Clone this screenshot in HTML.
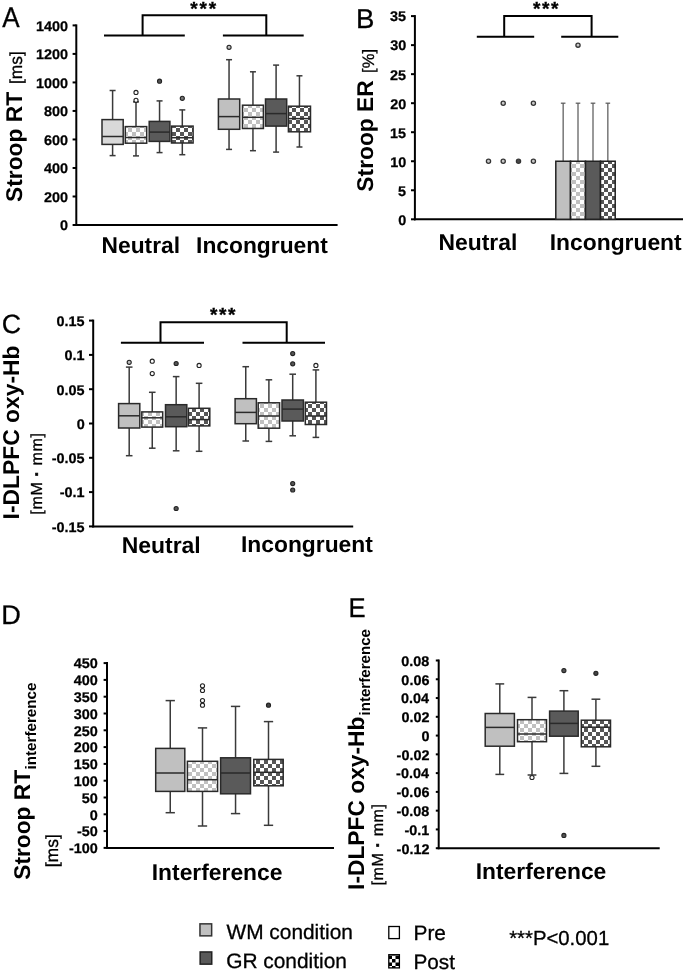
<!DOCTYPE html><html><head><meta charset="utf-8"><title>Figure</title><style>html,body{margin:0;padding:0;background:#fff;width:685px;height:971px;overflow:hidden}svg{display:block;filter:grayscale(1) blur(0.35px)}text{font-family:"Liberation Sans",sans-serif;text-rendering:geometricPrecision}</style></head><body><svg width="685" height="971" viewBox="0 0 685 971" font-family="Liberation Sans, sans-serif"><defs><pattern id="chkL" patternUnits="userSpaceOnUse" x="0" y="0" width="8" height="8"><rect width="8" height="8" fill="#fff"/><rect width="4" height="4" fill="#c0c0c0"/><rect x="4" y="4" width="4" height="4" fill="#c0c0c0"/></pattern><pattern id="chkD" patternUnits="userSpaceOnUse" x="0" y="0" width="8" height="8"><rect width="8" height="8" fill="#fff"/><rect width="4" height="4" fill="#565656"/><rect x="4" y="4" width="4" height="4" fill="#565656"/></pattern><pattern id="chkK" patternUnits="userSpaceOnUse" x="0" y="0" width="7.0" height="7.0"><rect width="7.0" height="7.0" fill="#fff"/><rect width="3.5" height="3.5" fill="#000"/><rect x="3.5" y="3.5" width="3.5" height="3.5" fill="#000"/></pattern></defs><rect width="685" height="971" fill="#fff"/><text transform="translate(2.25,26.50) scale(0.920,1)" font-size="28.34" font-weight="normal" fill="#000" stroke="#000" stroke-width="0.3">A</text>
<line x1="76.30" y1="24.40" x2="76.30" y2="226.00" stroke="#000" stroke-width="2" stroke-linecap="butt"/>
<line x1="75.30" y1="225.00" x2="337.60" y2="225.00" stroke="#000" stroke-width="2" stroke-linecap="butt"/>
<line x1="72.60" y1="225.00" x2="76.30" y2="225.00" stroke="#000" stroke-width="2" stroke-linecap="butt"/>
<text transform="translate(59.97,230.35) scale(1.030,1)" font-size="14.00" font-weight="bold" fill="#000" stroke="#000" stroke-width="0.25">0</text>
<line x1="72.60" y1="196.49" x2="76.30" y2="196.49" stroke="#000" stroke-width="2" stroke-linecap="butt"/>
<text transform="translate(43.93,201.84) scale(1.030,1)" font-size="14.00" font-weight="bold" fill="#000" stroke="#000" stroke-width="0.25">200</text>
<line x1="72.60" y1="167.97" x2="76.30" y2="167.97" stroke="#000" stroke-width="2" stroke-linecap="butt"/>
<text transform="translate(43.93,173.32) scale(1.030,1)" font-size="14.00" font-weight="bold" fill="#000" stroke="#000" stroke-width="0.25">400</text>
<line x1="72.60" y1="139.46" x2="76.30" y2="139.46" stroke="#000" stroke-width="2" stroke-linecap="butt"/>
<text transform="translate(43.93,144.81) scale(1.030,1)" font-size="14.00" font-weight="bold" fill="#000" stroke="#000" stroke-width="0.25">600</text>
<line x1="72.60" y1="110.94" x2="76.30" y2="110.94" stroke="#000" stroke-width="2" stroke-linecap="butt"/>
<text transform="translate(43.93,116.29) scale(1.030,1)" font-size="14.00" font-weight="bold" fill="#000" stroke="#000" stroke-width="0.25">800</text>
<line x1="72.60" y1="82.43" x2="76.30" y2="82.43" stroke="#000" stroke-width="2" stroke-linecap="butt"/>
<text transform="translate(35.91,87.78) scale(1.030,1)" font-size="14.00" font-weight="bold" fill="#000" stroke="#000" stroke-width="0.25">1000</text>
<line x1="72.60" y1="53.91" x2="76.30" y2="53.91" stroke="#000" stroke-width="2" stroke-linecap="butt"/>
<text transform="translate(35.91,59.26) scale(1.030,1)" font-size="14.00" font-weight="bold" fill="#000" stroke="#000" stroke-width="0.25">1200</text>
<line x1="72.60" y1="25.40" x2="76.30" y2="25.40" stroke="#000" stroke-width="2" stroke-linecap="butt"/>
<text transform="translate(35.91,30.75) scale(1.030,1)" font-size="14.00" font-weight="bold" fill="#000" stroke="#000" stroke-width="0.25">1400</text>
<text transform="translate(22.20,201.96) rotate(-90)" font-size="22.78" font-weight="bold" fill="#000">Stroop RT</text>
<text transform="translate(22.20,84.04) rotate(-90)" font-size="17.41" font-weight="normal" fill="#000" stroke="#000" stroke-width="0.3">[ms]</text>
<path d="M104,35.5 H184.8 M142.6,35.5 V15.3 H266.3 V35.5 M222.9,35.5 H303.7" stroke="#000" stroke-width="2" fill="none" />
<text x="190.28" y="15.29" font-size="19.00" font-weight="bold" stroke="#000" stroke-width="0.35">*</text>
<text x="199.58" y="15.29" font-size="19.00" font-weight="bold" stroke="#000" stroke-width="0.35">*</text>
<text x="208.68" y="15.29" font-size="19.00" font-weight="bold" stroke="#000" stroke-width="0.35">*</text>
<text x="101.58" y="252.50" font-size="22.77" font-weight="bold" fill="#000">Neutral</text>
<text x="196.07" y="252.60" font-size="22.81" font-weight="bold" fill="#000">Incongruent</text>
<line x1="112.60" y1="90.50" x2="112.60" y2="119.60" stroke="#3a3a3a" stroke-width="1.5" stroke-linecap="butt"/>
<line x1="112.60" y1="144.40" x2="112.60" y2="155.60" stroke="#3a3a3a" stroke-width="1.5" stroke-linecap="butt"/>
<line x1="109.60" y1="90.50" x2="115.60" y2="90.50" stroke="#3a3a3a" stroke-width="1.5" stroke-linecap="butt"/>
<line x1="109.60" y1="155.60" x2="115.60" y2="155.60" stroke="#3a3a3a" stroke-width="1.5" stroke-linecap="butt"/>
<rect x="102.00" y="119.60" width="21.20" height="24.80" fill="#d9d9d9" stroke="#2a2a2a" stroke-width="1.5"/>
<line x1="102.00" y1="136.50" x2="123.20" y2="136.50" stroke="#2a2a2a" stroke-width="1.5" stroke-linecap="butt"/>
<line x1="136.00" y1="101.90" x2="136.00" y2="126.60" stroke="#3a3a3a" stroke-width="1.5" stroke-linecap="butt"/>
<line x1="136.00" y1="143.20" x2="136.00" y2="155.90" stroke="#3a3a3a" stroke-width="1.5" stroke-linecap="butt"/>
<line x1="133.00" y1="101.90" x2="139.00" y2="101.90" stroke="#3a3a3a" stroke-width="1.5" stroke-linecap="butt"/>
<line x1="133.00" y1="155.90" x2="139.00" y2="155.90" stroke="#3a3a3a" stroke-width="1.5" stroke-linecap="butt"/>
<rect x="125.30" y="126.60" width="21.40" height="16.60" fill="url(#chkL)" stroke="#2a2a2a" stroke-width="1.5"/>
<line x1="125.30" y1="137.50" x2="146.70" y2="137.50" stroke="#2a2a2a" stroke-width="1.5" stroke-linecap="butt"/>
<circle cx="136.00" cy="92.40" r="2.05" fill="#fff" stroke="#222" stroke-width="1.1"/>
<circle cx="136.00" cy="100.30" r="2.05" fill="#fff" stroke="#222" stroke-width="1.1"/>
<line x1="159.55" y1="100.90" x2="159.55" y2="121.40" stroke="#3a3a3a" stroke-width="1.5" stroke-linecap="butt"/>
<line x1="159.55" y1="141.40" x2="159.55" y2="152.60" stroke="#3a3a3a" stroke-width="1.5" stroke-linecap="butt"/>
<line x1="156.55" y1="100.90" x2="162.55" y2="100.90" stroke="#3a3a3a" stroke-width="1.5" stroke-linecap="butt"/>
<line x1="156.55" y1="152.60" x2="162.55" y2="152.60" stroke="#3a3a3a" stroke-width="1.5" stroke-linecap="butt"/>
<rect x="149.20" y="121.40" width="20.70" height="20.00" fill="#5a5a5a" stroke="#2a2a2a" stroke-width="1.5"/>
<line x1="149.20" y1="132.10" x2="169.90" y2="132.10" stroke="#2a2a2a" stroke-width="1.5" stroke-linecap="butt"/>
<circle cx="159.55" cy="81.20" r="2.05" fill="#555" stroke="#222" stroke-width="1.1"/>
<line x1="182.30" y1="109.90" x2="182.30" y2="126.10" stroke="#3a3a3a" stroke-width="1.5" stroke-linecap="butt"/>
<line x1="182.30" y1="143.00" x2="182.30" y2="154.70" stroke="#3a3a3a" stroke-width="1.5" stroke-linecap="butt"/>
<line x1="179.30" y1="109.90" x2="185.30" y2="109.90" stroke="#3a3a3a" stroke-width="1.5" stroke-linecap="butt"/>
<line x1="179.30" y1="154.70" x2="185.30" y2="154.70" stroke="#3a3a3a" stroke-width="1.5" stroke-linecap="butt"/>
<rect x="171.50" y="126.10" width="21.60" height="16.90" fill="url(#chkD)" stroke="#2a2a2a" stroke-width="1.5"/>
<line x1="171.50" y1="137.70" x2="193.10" y2="137.70" stroke="#2a2a2a" stroke-width="1.5" stroke-linecap="butt"/>
<circle cx="182.30" cy="98.30" r="2.05" fill="#777" stroke="#222" stroke-width="1.1"/>
<line x1="229.05" y1="59.70" x2="229.05" y2="99.00" stroke="#3a3a3a" stroke-width="1.5" stroke-linecap="butt"/>
<line x1="229.05" y1="129.30" x2="229.05" y2="149.40" stroke="#3a3a3a" stroke-width="1.5" stroke-linecap="butt"/>
<line x1="226.05" y1="59.70" x2="232.05" y2="59.70" stroke="#3a3a3a" stroke-width="1.5" stroke-linecap="butt"/>
<line x1="226.05" y1="149.40" x2="232.05" y2="149.40" stroke="#3a3a3a" stroke-width="1.5" stroke-linecap="butt"/>
<rect x="218.40" y="99.00" width="21.30" height="30.30" fill="#c0c0c0" stroke="#2a2a2a" stroke-width="1.5"/>
<line x1="218.40" y1="116.60" x2="239.70" y2="116.60" stroke="#2a2a2a" stroke-width="1.5" stroke-linecap="butt"/>
<circle cx="229.05" cy="47.30" r="2.05" fill="#c0c0c0" stroke="#222" stroke-width="1.1"/>
<line x1="252.95" y1="71.80" x2="252.95" y2="105.20" stroke="#3a3a3a" stroke-width="1.5" stroke-linecap="butt"/>
<line x1="252.95" y1="128.50" x2="252.95" y2="150.70" stroke="#3a3a3a" stroke-width="1.5" stroke-linecap="butt"/>
<line x1="249.95" y1="71.80" x2="255.95" y2="71.80" stroke="#3a3a3a" stroke-width="1.5" stroke-linecap="butt"/>
<line x1="249.95" y1="150.70" x2="255.95" y2="150.70" stroke="#3a3a3a" stroke-width="1.5" stroke-linecap="butt"/>
<rect x="242.50" y="105.20" width="20.90" height="23.30" fill="url(#chkL)" stroke="#2a2a2a" stroke-width="1.5"/>
<line x1="242.50" y1="117.30" x2="263.40" y2="117.30" stroke="#2a2a2a" stroke-width="1.5" stroke-linecap="butt"/>
<line x1="276.10" y1="65.10" x2="276.10" y2="99.00" stroke="#3a3a3a" stroke-width="1.5" stroke-linecap="butt"/>
<line x1="276.10" y1="126.10" x2="276.10" y2="152.10" stroke="#3a3a3a" stroke-width="1.5" stroke-linecap="butt"/>
<line x1="273.10" y1="65.10" x2="279.10" y2="65.10" stroke="#3a3a3a" stroke-width="1.5" stroke-linecap="butt"/>
<line x1="273.10" y1="152.10" x2="279.10" y2="152.10" stroke="#3a3a3a" stroke-width="1.5" stroke-linecap="butt"/>
<rect x="265.50" y="99.00" width="21.20" height="27.10" fill="#5a5a5a" stroke="#2a2a2a" stroke-width="1.5"/>
<line x1="265.50" y1="113.60" x2="286.70" y2="113.60" stroke="#2a2a2a" stroke-width="1.5" stroke-linecap="butt"/>
<line x1="299.45" y1="75.80" x2="299.45" y2="106.20" stroke="#3a3a3a" stroke-width="1.5" stroke-linecap="butt"/>
<line x1="299.45" y1="131.80" x2="299.45" y2="147.00" stroke="#3a3a3a" stroke-width="1.5" stroke-linecap="butt"/>
<line x1="296.45" y1="75.80" x2="302.45" y2="75.80" stroke="#3a3a3a" stroke-width="1.5" stroke-linecap="butt"/>
<line x1="296.45" y1="147.00" x2="302.45" y2="147.00" stroke="#3a3a3a" stroke-width="1.5" stroke-linecap="butt"/>
<rect x="288.40" y="106.20" width="22.10" height="25.60" fill="url(#chkD)" stroke="#2a2a2a" stroke-width="1.5"/>
<line x1="288.40" y1="118.60" x2="310.50" y2="118.60" stroke="#2a2a2a" stroke-width="1.5" stroke-linecap="butt"/>
<text transform="translate(355.93,27.60) scale(1.016,1)" font-size="27.18" font-weight="normal" fill="#000" stroke="#000" stroke-width="0.3">B</text>
<line x1="414.90" y1="15.10" x2="414.90" y2="220.30" stroke="#000" stroke-width="2" stroke-linecap="butt"/>
<line x1="413.90" y1="219.30" x2="683.00" y2="219.30" stroke="#000" stroke-width="2" stroke-linecap="butt"/>
<line x1="411.00" y1="219.30" x2="414.90" y2="219.30" stroke="#000" stroke-width="2" stroke-linecap="butt"/>
<text transform="translate(398.17,224.65) scale(1.030,1)" font-size="14.00" font-weight="bold" fill="#000" stroke="#000" stroke-width="0.25">0</text>
<line x1="411.00" y1="190.27" x2="414.90" y2="190.27" stroke="#000" stroke-width="2" stroke-linecap="butt"/>
<text transform="translate(397.98,195.62) scale(1.030,1)" font-size="14.00" font-weight="bold" fill="#000" stroke="#000" stroke-width="0.25">5</text>
<line x1="411.00" y1="161.24" x2="414.90" y2="161.24" stroke="#000" stroke-width="2" stroke-linecap="butt"/>
<text transform="translate(390.15,166.59) scale(1.030,1)" font-size="14.00" font-weight="bold" fill="#000" stroke="#000" stroke-width="0.25">10</text>
<line x1="411.00" y1="132.21" x2="414.90" y2="132.21" stroke="#000" stroke-width="2" stroke-linecap="butt"/>
<text transform="translate(389.96,137.56) scale(1.030,1)" font-size="14.00" font-weight="bold" fill="#000" stroke="#000" stroke-width="0.25">15</text>
<line x1="411.00" y1="103.19" x2="414.90" y2="103.19" stroke="#000" stroke-width="2" stroke-linecap="butt"/>
<text transform="translate(390.15,108.54) scale(1.030,1)" font-size="14.00" font-weight="bold" fill="#000" stroke="#000" stroke-width="0.25">20</text>
<line x1="411.00" y1="74.16" x2="414.90" y2="74.16" stroke="#000" stroke-width="2" stroke-linecap="butt"/>
<text transform="translate(389.96,79.51) scale(1.030,1)" font-size="14.00" font-weight="bold" fill="#000" stroke="#000" stroke-width="0.25">25</text>
<line x1="411.00" y1="45.13" x2="414.90" y2="45.13" stroke="#000" stroke-width="2" stroke-linecap="butt"/>
<text transform="translate(390.15,50.48) scale(1.030,1)" font-size="14.00" font-weight="bold" fill="#000" stroke="#000" stroke-width="0.25">30</text>
<line x1="411.00" y1="16.10" x2="414.90" y2="16.10" stroke="#000" stroke-width="2" stroke-linecap="butt"/>
<text transform="translate(389.96,21.45) scale(1.030,1)" font-size="14.00" font-weight="bold" fill="#000" stroke="#000" stroke-width="0.25">35</text>
<text transform="translate(373.30,191.66) rotate(-90)" font-size="22.81" font-weight="bold" fill="#000">Stroop ER</text>
<text transform="translate(373.60,72.88) rotate(-90)" font-size="16.51" font-weight="normal" fill="#000" stroke="#000" stroke-width="0.3">[%]</text>
<path d="M476.8,36.8 H534.2 M504.2,36.8 V15.9 H591.6 V36.8 M561.2,36.8 H618.3" stroke="#000" stroke-width="2" fill="none" />
<text x="532.88" y="15.24" font-size="19.00" font-weight="bold" stroke="#000" stroke-width="0.35">*</text>
<text x="541.98" y="15.24" font-size="19.00" font-weight="bold" stroke="#000" stroke-width="0.35">*</text>
<text x="551.08" y="15.24" font-size="19.00" font-weight="bold" stroke="#000" stroke-width="0.35">*</text>
<text x="438.57" y="250.00" font-size="22.86" font-weight="bold" fill="#000">Neutral</text>
<text x="549.77" y="249.90" font-size="22.83" font-weight="bold" fill="#000">Incongruent</text>
<line x1="563.15" y1="103.19" x2="563.15" y2="161.24" stroke="#555" stroke-width="1.2" stroke-linecap="butt"/>
<line x1="560.85" y1="103.19" x2="565.45" y2="103.19" stroke="#555" stroke-width="1.2" stroke-linecap="butt"/>
<line x1="578.00" y1="103.19" x2="578.00" y2="161.24" stroke="#555" stroke-width="1.2" stroke-linecap="butt"/>
<line x1="575.70" y1="103.19" x2="580.30" y2="103.19" stroke="#555" stroke-width="1.2" stroke-linecap="butt"/>
<line x1="593.00" y1="103.19" x2="593.00" y2="161.24" stroke="#555" stroke-width="1.2" stroke-linecap="butt"/>
<line x1="590.70" y1="103.19" x2="595.30" y2="103.19" stroke="#555" stroke-width="1.2" stroke-linecap="butt"/>
<line x1="607.85" y1="103.19" x2="607.85" y2="161.24" stroke="#555" stroke-width="1.2" stroke-linecap="butt"/>
<line x1="605.55" y1="103.19" x2="610.15" y2="103.19" stroke="#555" stroke-width="1.2" stroke-linecap="butt"/>
<rect x="555.80" y="161.24" width="14.70" height="58.06" fill="#c0c0c0" stroke="#222" stroke-width="1.5"/>
<rect x="570.50" y="161.24" width="15.00" height="58.06" fill="url(#chkL)" stroke="#222" stroke-width="1.5"/>
<rect x="585.50" y="161.24" width="15.00" height="58.06" fill="#5a5a5a" stroke="#222" stroke-width="1.5"/>
<rect x="600.50" y="161.24" width="14.70" height="58.06" fill="url(#chkD)" stroke="#222" stroke-width="1.5"/>
<circle cx="503.20" cy="103.19" r="2.10" fill="#c8c8c8" stroke="#333" stroke-width="1.3"/>
<circle cx="533.40" cy="103.19" r="2.10" fill="#c8c8c8" stroke="#333" stroke-width="1.3"/>
<circle cx="488.50" cy="161.24" r="2.10" fill="#c8c8c8" stroke="#333" stroke-width="1.3"/>
<circle cx="503.20" cy="161.24" r="2.10" fill="#c8c8c8" stroke="#333" stroke-width="1.3"/>
<circle cx="518.50" cy="161.24" r="2.10" fill="#4a4a4a" stroke="#333" stroke-width="1.3"/>
<circle cx="533.40" cy="161.24" r="2.10" fill="#c8c8c8" stroke="#333" stroke-width="1.3"/>
<circle cx="578.00" cy="45.13" r="2.10" fill="#c8c8c8" stroke="#333" stroke-width="1.3"/>
<text transform="translate(1.64,332.84) scale(1.016,1)" font-size="26.41" font-weight="normal" fill="#000" stroke="#000" stroke-width="0.3">C</text>
<line x1="93.20" y1="319.60" x2="93.20" y2="527.40" stroke="#000" stroke-width="2" stroke-linecap="butt"/>
<line x1="92.20" y1="526.40" x2="353.20" y2="526.40" stroke="#000" stroke-width="2" stroke-linecap="butt"/>
<line x1="89.00" y1="320.60" x2="93.20" y2="320.60" stroke="#000" stroke-width="2" stroke-linecap="butt"/>
<text transform="translate(56.54,325.95) scale(1.030,1)" font-size="14.00" font-weight="bold" fill="#000" stroke="#000" stroke-width="0.25">0.15</text>
<line x1="89.00" y1="354.90" x2="93.20" y2="354.90" stroke="#000" stroke-width="2" stroke-linecap="butt"/>
<text transform="translate(64.56,360.25) scale(1.030,1)" font-size="14.00" font-weight="bold" fill="#000" stroke="#000" stroke-width="0.25">0.1</text>
<line x1="89.00" y1="389.20" x2="93.20" y2="389.20" stroke="#000" stroke-width="2" stroke-linecap="butt"/>
<text transform="translate(56.54,394.55) scale(1.030,1)" font-size="14.00" font-weight="bold" fill="#000" stroke="#000" stroke-width="0.25">0.05</text>
<line x1="89.00" y1="423.50" x2="93.20" y2="423.50" stroke="#000" stroke-width="2" stroke-linecap="butt"/>
<text transform="translate(76.77,428.85) scale(1.030,1)" font-size="14.00" font-weight="bold" fill="#000" stroke="#000" stroke-width="0.25">0</text>
<line x1="89.00" y1="457.80" x2="93.20" y2="457.80" stroke="#000" stroke-width="2" stroke-linecap="butt"/>
<text transform="translate(51.73,463.15) scale(1.030,1)" font-size="14.00" font-weight="bold" fill="#000" stroke="#000" stroke-width="0.25">-0.05</text>
<line x1="89.00" y1="492.10" x2="93.20" y2="492.10" stroke="#000" stroke-width="2" stroke-linecap="butt"/>
<text transform="translate(59.75,497.45) scale(1.030,1)" font-size="14.00" font-weight="bold" fill="#000" stroke="#000" stroke-width="0.25">-0.1</text>
<line x1="89.00" y1="526.40" x2="93.20" y2="526.40" stroke="#000" stroke-width="2" stroke-linecap="butt"/>
<text transform="translate(51.73,531.75) scale(1.030,1)" font-size="14.00" font-weight="bold" fill="#000" stroke="#000" stroke-width="0.25">-0.15</text>
<text transform="translate(19.40,519.43) rotate(-90)" font-size="22.87" font-weight="bold" fill="#000">I-DLPFC oxy-Hb</text>
<text transform="translate(42.00,514.64) rotate(-90)" font-size="16.00" font-weight="normal" fill="#000" textLength="81.68" lengthAdjust="spacing" stroke="#000" stroke-width="0.3">[mM <tspan font-weight="bold" stroke-width="0.6">·</tspan> mm]</text>
<path d="M120.9,342.8 H204 M160.5,342.8 V322.3 H286.7 V342.8 M242.5,342.8 H325" stroke="#000" stroke-width="2" fill="none" />
<text x="209.98" y="321.04" font-size="19.00" font-weight="bold" stroke="#000" stroke-width="0.35">*</text>
<text x="218.98" y="321.04" font-size="19.00" font-weight="bold" stroke="#000" stroke-width="0.35">*</text>
<text x="228.08" y="321.04" font-size="19.00" font-weight="bold" stroke="#000" stroke-width="0.35">*</text>
<text x="121.66" y="553.40" font-size="22.95" font-weight="bold" fill="#000">Neutral</text>
<text x="240.97" y="552.40" font-size="22.83" font-weight="bold" fill="#000">Incongruent</text>
<line x1="129.20" y1="367.10" x2="129.20" y2="403.60" stroke="#3a3a3a" stroke-width="1.5" stroke-linecap="butt"/>
<line x1="129.20" y1="428.00" x2="129.20" y2="455.70" stroke="#3a3a3a" stroke-width="1.5" stroke-linecap="butt"/>
<line x1="125.90" y1="367.10" x2="132.50" y2="367.10" stroke="#3a3a3a" stroke-width="1.5" stroke-linecap="butt"/>
<line x1="125.90" y1="455.70" x2="132.50" y2="455.70" stroke="#3a3a3a" stroke-width="1.5" stroke-linecap="butt"/>
<rect x="118.60" y="403.60" width="21.20" height="24.40" fill="#c0c0c0" stroke="#2a2a2a" stroke-width="1.5"/>
<line x1="118.60" y1="415.80" x2="139.80" y2="415.80" stroke="#2a2a2a" stroke-width="1.5" stroke-linecap="butt"/>
<circle cx="129.20" cy="362.30" r="2.05" fill="#c0c0c0" stroke="#222" stroke-width="1.1"/>
<line x1="152.25" y1="392.30" x2="152.25" y2="411.90" stroke="#3a3a3a" stroke-width="1.5" stroke-linecap="butt"/>
<line x1="152.25" y1="427.10" x2="152.25" y2="448.20" stroke="#3a3a3a" stroke-width="1.5" stroke-linecap="butt"/>
<line x1="148.95" y1="392.30" x2="155.55" y2="392.30" stroke="#3a3a3a" stroke-width="1.5" stroke-linecap="butt"/>
<line x1="148.95" y1="448.20" x2="155.55" y2="448.20" stroke="#3a3a3a" stroke-width="1.5" stroke-linecap="butt"/>
<rect x="141.80" y="411.90" width="20.90" height="15.20" fill="url(#chkL)" stroke="#2a2a2a" stroke-width="1.5"/>
<line x1="141.80" y1="417.80" x2="162.70" y2="417.80" stroke="#2a2a2a" stroke-width="1.5" stroke-linecap="butt"/>
<circle cx="152.25" cy="361.20" r="2.05" fill="#fff" stroke="#222" stroke-width="1.1"/>
<circle cx="152.25" cy="373.60" r="2.05" fill="#fff" stroke="#222" stroke-width="1.1"/>
<line x1="176.15" y1="376.60" x2="176.15" y2="404.70" stroke="#3a3a3a" stroke-width="1.5" stroke-linecap="butt"/>
<line x1="176.15" y1="426.70" x2="176.15" y2="450.80" stroke="#3a3a3a" stroke-width="1.5" stroke-linecap="butt"/>
<line x1="172.85" y1="376.60" x2="179.45" y2="376.60" stroke="#3a3a3a" stroke-width="1.5" stroke-linecap="butt"/>
<line x1="172.85" y1="450.80" x2="179.45" y2="450.80" stroke="#3a3a3a" stroke-width="1.5" stroke-linecap="butt"/>
<rect x="165.50" y="404.70" width="21.30" height="22.00" fill="#5a5a5a" stroke="#2a2a2a" stroke-width="1.5"/>
<line x1="165.50" y1="416.80" x2="186.80" y2="416.80" stroke="#2a2a2a" stroke-width="1.5" stroke-linecap="butt"/>
<circle cx="176.15" cy="363.50" r="2.05" fill="#555" stroke="#222" stroke-width="1.1"/>
<circle cx="176.15" cy="508.50" r="2.05" fill="#555" stroke="#222" stroke-width="1.1"/>
<line x1="199.10" y1="383.30" x2="199.10" y2="408.30" stroke="#3a3a3a" stroke-width="1.5" stroke-linecap="butt"/>
<line x1="199.10" y1="425.90" x2="199.10" y2="451.30" stroke="#3a3a3a" stroke-width="1.5" stroke-linecap="butt"/>
<line x1="195.80" y1="383.30" x2="202.40" y2="383.30" stroke="#3a3a3a" stroke-width="1.5" stroke-linecap="butt"/>
<line x1="195.80" y1="451.30" x2="202.40" y2="451.30" stroke="#3a3a3a" stroke-width="1.5" stroke-linecap="butt"/>
<rect x="188.40" y="408.30" width="21.40" height="17.60" fill="url(#chkD)" stroke="#2a2a2a" stroke-width="1.5"/>
<line x1="188.40" y1="419.60" x2="209.80" y2="419.60" stroke="#2a2a2a" stroke-width="1.5" stroke-linecap="butt"/>
<circle cx="199.10" cy="365.40" r="2.05" fill="#fff" stroke="#222" stroke-width="1.1"/>
<line x1="245.75" y1="366.70" x2="245.75" y2="398.70" stroke="#3a3a3a" stroke-width="1.5" stroke-linecap="butt"/>
<line x1="245.75" y1="423.70" x2="245.75" y2="441.00" stroke="#3a3a3a" stroke-width="1.5" stroke-linecap="butt"/>
<line x1="242.45" y1="366.70" x2="249.05" y2="366.70" stroke="#3a3a3a" stroke-width="1.5" stroke-linecap="butt"/>
<line x1="242.45" y1="441.00" x2="249.05" y2="441.00" stroke="#3a3a3a" stroke-width="1.5" stroke-linecap="butt"/>
<rect x="235.10" y="398.70" width="21.30" height="25.00" fill="#c0c0c0" stroke="#2a2a2a" stroke-width="1.5"/>
<line x1="235.10" y1="412.40" x2="256.40" y2="412.40" stroke="#2a2a2a" stroke-width="1.5" stroke-linecap="butt"/>
<line x1="268.90" y1="379.80" x2="268.90" y2="402.80" stroke="#3a3a3a" stroke-width="1.5" stroke-linecap="butt"/>
<line x1="268.90" y1="428.20" x2="268.90" y2="441.40" stroke="#3a3a3a" stroke-width="1.5" stroke-linecap="butt"/>
<line x1="265.60" y1="379.80" x2="272.20" y2="379.80" stroke="#3a3a3a" stroke-width="1.5" stroke-linecap="butt"/>
<line x1="265.60" y1="441.40" x2="272.20" y2="441.40" stroke="#3a3a3a" stroke-width="1.5" stroke-linecap="butt"/>
<rect x="258.20" y="402.80" width="21.40" height="25.40" fill="url(#chkL)" stroke="#2a2a2a" stroke-width="1.5"/>
<line x1="258.20" y1="416.00" x2="279.60" y2="416.00" stroke="#2a2a2a" stroke-width="1.5" stroke-linecap="butt"/>
<line x1="292.70" y1="374.20" x2="292.70" y2="400.00" stroke="#3a3a3a" stroke-width="1.5" stroke-linecap="butt"/>
<line x1="292.70" y1="421.00" x2="292.70" y2="435.80" stroke="#3a3a3a" stroke-width="1.5" stroke-linecap="butt"/>
<line x1="289.40" y1="374.20" x2="296.00" y2="374.20" stroke="#3a3a3a" stroke-width="1.5" stroke-linecap="butt"/>
<line x1="289.40" y1="435.80" x2="296.00" y2="435.80" stroke="#3a3a3a" stroke-width="1.5" stroke-linecap="butt"/>
<rect x="282.00" y="400.00" width="21.40" height="21.00" fill="#5a5a5a" stroke="#2a2a2a" stroke-width="1.5"/>
<line x1="282.00" y1="409.10" x2="303.40" y2="409.10" stroke="#2a2a2a" stroke-width="1.5" stroke-linecap="butt"/>
<circle cx="292.70" cy="353.60" r="2.05" fill="#555" stroke="#222" stroke-width="1.1"/>
<circle cx="292.70" cy="363.80" r="2.05" fill="#555" stroke="#222" stroke-width="1.1"/>
<circle cx="292.70" cy="483.60" r="2.05" fill="#555" stroke="#222" stroke-width="1.1"/>
<circle cx="292.70" cy="490.00" r="2.05" fill="#555" stroke="#222" stroke-width="1.1"/>
<line x1="315.90" y1="369.90" x2="315.90" y2="402.20" stroke="#3a3a3a" stroke-width="1.5" stroke-linecap="butt"/>
<line x1="315.90" y1="424.50" x2="315.90" y2="437.40" stroke="#3a3a3a" stroke-width="1.5" stroke-linecap="butt"/>
<line x1="312.60" y1="369.90" x2="319.20" y2="369.90" stroke="#3a3a3a" stroke-width="1.5" stroke-linecap="butt"/>
<line x1="312.60" y1="437.40" x2="319.20" y2="437.40" stroke="#3a3a3a" stroke-width="1.5" stroke-linecap="butt"/>
<rect x="305.30" y="402.20" width="21.20" height="22.30" fill="url(#chkD)" stroke="#2a2a2a" stroke-width="1.5"/>
<line x1="305.30" y1="416.00" x2="326.50" y2="416.00" stroke="#2a2a2a" stroke-width="1.5" stroke-linecap="butt"/>
<circle cx="315.90" cy="365.40" r="2.05" fill="#fff" stroke="#222" stroke-width="1.1"/>
<text transform="translate(1.37,624.00) scale(1.016,1)" font-size="26.74" font-weight="normal" fill="#000" stroke="#000" stroke-width="0.3">D</text>
<line x1="107.00" y1="662.10" x2="107.00" y2="848.90" stroke="#000" stroke-width="2" stroke-linecap="butt"/>
<line x1="106.00" y1="847.90" x2="334.00" y2="847.90" stroke="#000" stroke-width="2" stroke-linecap="butt"/>
<line x1="103.60" y1="663.10" x2="107.00" y2="663.10" stroke="#000" stroke-width="2" stroke-linecap="butt"/>
<text transform="translate(73.73,668.45) scale(1.030,1)" font-size="14.00" font-weight="bold" fill="#000" stroke="#000" stroke-width="0.25">450</text>
<line x1="103.60" y1="679.90" x2="107.00" y2="679.90" stroke="#000" stroke-width="2" stroke-linecap="butt"/>
<text transform="translate(73.73,685.25) scale(1.030,1)" font-size="14.00" font-weight="bold" fill="#000" stroke="#000" stroke-width="0.25">400</text>
<line x1="103.60" y1="696.70" x2="107.00" y2="696.70" stroke="#000" stroke-width="2" stroke-linecap="butt"/>
<text transform="translate(73.73,702.05) scale(1.030,1)" font-size="14.00" font-weight="bold" fill="#000" stroke="#000" stroke-width="0.25">350</text>
<line x1="103.60" y1="713.50" x2="107.00" y2="713.50" stroke="#000" stroke-width="2" stroke-linecap="butt"/>
<text transform="translate(73.73,718.85) scale(1.030,1)" font-size="14.00" font-weight="bold" fill="#000" stroke="#000" stroke-width="0.25">300</text>
<line x1="103.60" y1="730.30" x2="107.00" y2="730.30" stroke="#000" stroke-width="2" stroke-linecap="butt"/>
<text transform="translate(73.73,735.65) scale(1.030,1)" font-size="14.00" font-weight="bold" fill="#000" stroke="#000" stroke-width="0.25">250</text>
<line x1="103.60" y1="747.10" x2="107.00" y2="747.10" stroke="#000" stroke-width="2" stroke-linecap="butt"/>
<text transform="translate(73.73,752.45) scale(1.030,1)" font-size="14.00" font-weight="bold" fill="#000" stroke="#000" stroke-width="0.25">200</text>
<line x1="103.60" y1="763.90" x2="107.00" y2="763.90" stroke="#000" stroke-width="2" stroke-linecap="butt"/>
<text transform="translate(73.73,769.25) scale(1.030,1)" font-size="14.00" font-weight="bold" fill="#000" stroke="#000" stroke-width="0.25">150</text>
<line x1="103.60" y1="780.70" x2="107.00" y2="780.70" stroke="#000" stroke-width="2" stroke-linecap="butt"/>
<text transform="translate(73.73,786.05) scale(1.030,1)" font-size="14.00" font-weight="bold" fill="#000" stroke="#000" stroke-width="0.25">100</text>
<line x1="103.60" y1="797.50" x2="107.00" y2="797.50" stroke="#000" stroke-width="2" stroke-linecap="butt"/>
<text transform="translate(81.75,802.85) scale(1.030,1)" font-size="14.00" font-weight="bold" fill="#000" stroke="#000" stroke-width="0.25">50</text>
<line x1="103.60" y1="814.30" x2="107.00" y2="814.30" stroke="#000" stroke-width="2" stroke-linecap="butt"/>
<text transform="translate(89.77,819.65) scale(1.030,1)" font-size="14.00" font-weight="bold" fill="#000" stroke="#000" stroke-width="0.25">0</text>
<line x1="103.60" y1="831.10" x2="107.00" y2="831.10" stroke="#000" stroke-width="2" stroke-linecap="butt"/>
<text transform="translate(76.95,836.45) scale(1.030,1)" font-size="14.00" font-weight="bold" fill="#000" stroke="#000" stroke-width="0.25">-50</text>
<line x1="103.60" y1="847.90" x2="107.00" y2="847.90" stroke="#000" stroke-width="2" stroke-linecap="butt"/>
<text transform="translate(68.93,853.25) scale(1.030,1)" font-size="14.00" font-weight="bold" fill="#000" stroke="#000" stroke-width="0.25">-100</text>
<text transform="translate(29.90,879.75) rotate(-90)" font-size="22.72" font-weight="bold" fill="#000">Stroop RT</text>
<text transform="translate(35.60,769.46) rotate(-90)" font-size="15.18" font-weight="bold" fill="#000">interference</text>
<text transform="translate(57.70,867.25) rotate(-90)" font-size="17.52" font-weight="normal" fill="#000" stroke="#000" stroke-width="0.3">[ms]</text>
<text x="151.77" y="879.50" font-size="22.83" font-weight="bold" fill="#000">Interference</text>
<line x1="170.25" y1="700.60" x2="170.25" y2="748.40" stroke="#3a3a3a" stroke-width="1.5" stroke-linecap="butt"/>
<line x1="170.25" y1="791.40" x2="170.25" y2="812.70" stroke="#3a3a3a" stroke-width="1.5" stroke-linecap="butt"/>
<line x1="165.60" y1="700.60" x2="174.90" y2="700.60" stroke="#3a3a3a" stroke-width="1.5" stroke-linecap="butt"/>
<line x1="165.60" y1="812.70" x2="174.90" y2="812.70" stroke="#3a3a3a" stroke-width="1.5" stroke-linecap="butt"/>
<rect x="155.70" y="748.40" width="29.10" height="43.00" fill="#c0c0c0" stroke="#2a2a2a" stroke-width="1.5"/>
<line x1="155.70" y1="773.00" x2="184.80" y2="773.00" stroke="#2a2a2a" stroke-width="1.5" stroke-linecap="butt"/>
<line x1="202.50" y1="727.90" x2="202.50" y2="761.30" stroke="#3a3a3a" stroke-width="1.5" stroke-linecap="butt"/>
<line x1="202.50" y1="791.40" x2="202.50" y2="826.00" stroke="#3a3a3a" stroke-width="1.5" stroke-linecap="butt"/>
<line x1="197.85" y1="727.90" x2="207.15" y2="727.90" stroke="#3a3a3a" stroke-width="1.5" stroke-linecap="butt"/>
<line x1="197.85" y1="826.00" x2="207.15" y2="826.00" stroke="#3a3a3a" stroke-width="1.5" stroke-linecap="butt"/>
<rect x="187.40" y="761.30" width="30.20" height="30.10" fill="url(#chkL)" stroke="#2a2a2a" stroke-width="1.5"/>
<line x1="187.40" y1="779.70" x2="217.60" y2="779.70" stroke="#2a2a2a" stroke-width="1.5" stroke-linecap="butt"/>
<circle cx="202.50" cy="685.80" r="2.05" fill="#fff" stroke="#222" stroke-width="1.1"/>
<circle cx="202.50" cy="690.50" r="2.05" fill="#fff" stroke="#222" stroke-width="1.1"/>
<circle cx="202.50" cy="700.60" r="2.05" fill="#fff" stroke="#222" stroke-width="1.1"/>
<circle cx="202.50" cy="705.20" r="2.05" fill="#fff" stroke="#222" stroke-width="1.1"/>
<line x1="235.55" y1="706.40" x2="235.55" y2="757.80" stroke="#3a3a3a" stroke-width="1.5" stroke-linecap="butt"/>
<line x1="235.55" y1="793.80" x2="235.55" y2="813.60" stroke="#3a3a3a" stroke-width="1.5" stroke-linecap="butt"/>
<line x1="230.90" y1="706.40" x2="240.20" y2="706.40" stroke="#3a3a3a" stroke-width="1.5" stroke-linecap="butt"/>
<line x1="230.90" y1="813.60" x2="240.20" y2="813.60" stroke="#3a3a3a" stroke-width="1.5" stroke-linecap="butt"/>
<rect x="220.60" y="757.80" width="29.90" height="36.00" fill="#5a5a5a" stroke="#2a2a2a" stroke-width="1.5"/>
<line x1="220.60" y1="773.00" x2="250.50" y2="773.00" stroke="#2a2a2a" stroke-width="1.5" stroke-linecap="butt"/>
<line x1="268.50" y1="721.60" x2="268.50" y2="759.40" stroke="#3a3a3a" stroke-width="1.5" stroke-linecap="butt"/>
<line x1="268.50" y1="785.80" x2="268.50" y2="825.30" stroke="#3a3a3a" stroke-width="1.5" stroke-linecap="butt"/>
<line x1="263.85" y1="721.60" x2="273.15" y2="721.60" stroke="#3a3a3a" stroke-width="1.5" stroke-linecap="butt"/>
<line x1="263.85" y1="825.30" x2="273.15" y2="825.30" stroke="#3a3a3a" stroke-width="1.5" stroke-linecap="butt"/>
<rect x="253.80" y="759.40" width="29.40" height="26.40" fill="url(#chkD)" stroke="#2a2a2a" stroke-width="1.5"/>
<line x1="253.80" y1="772.30" x2="283.20" y2="772.30" stroke="#2a2a2a" stroke-width="1.5" stroke-linecap="butt"/>
<circle cx="268.50" cy="705.20" r="2.05" fill="#444" stroke="#222" stroke-width="1.1"/>
<text transform="translate(348.50,617.30) scale(0.954,1)" font-size="26.89" font-weight="normal" fill="#000" stroke="#000" stroke-width="0.3">E</text>
<line x1="438.70" y1="659.50" x2="438.70" y2="849.20" stroke="#000" stroke-width="2" stroke-linecap="butt"/>
<line x1="437.70" y1="848.20" x2="659.70" y2="848.20" stroke="#000" stroke-width="2" stroke-linecap="butt"/>
<line x1="435.80" y1="660.50" x2="438.70" y2="660.50" stroke="#000" stroke-width="2" stroke-linecap="butt"/>
<text transform="translate(401.28,665.85) scale(1.030,1)" font-size="14.00" font-weight="bold" fill="#000" stroke="#000" stroke-width="0.25">0.08</text>
<line x1="435.80" y1="679.27" x2="438.70" y2="679.27" stroke="#000" stroke-width="2" stroke-linecap="butt"/>
<text transform="translate(401.36,684.62) scale(1.030,1)" font-size="14.00" font-weight="bold" fill="#000" stroke="#000" stroke-width="0.25">0.06</text>
<line x1="435.80" y1="698.04" x2="438.70" y2="698.04" stroke="#000" stroke-width="2" stroke-linecap="butt"/>
<text transform="translate(400.91,703.39) scale(1.030,1)" font-size="14.00" font-weight="bold" fill="#000" stroke="#000" stroke-width="0.25">0.04</text>
<line x1="435.80" y1="716.81" x2="438.70" y2="716.81" stroke="#000" stroke-width="2" stroke-linecap="butt"/>
<text transform="translate(401.41,722.16) scale(1.030,1)" font-size="14.00" font-weight="bold" fill="#000" stroke="#000" stroke-width="0.25">0.02</text>
<line x1="435.80" y1="735.58" x2="438.70" y2="735.58" stroke="#000" stroke-width="2" stroke-linecap="butt"/>
<text transform="translate(421.47,740.93) scale(1.030,1)" font-size="14.00" font-weight="bold" fill="#000" stroke="#000" stroke-width="0.25">0</text>
<line x1="435.80" y1="754.35" x2="438.70" y2="754.35" stroke="#000" stroke-width="2" stroke-linecap="butt"/>
<text transform="translate(396.61,759.70) scale(1.030,1)" font-size="14.00" font-weight="bold" fill="#000" stroke="#000" stroke-width="0.25">-0.02</text>
<line x1="435.80" y1="773.12" x2="438.70" y2="773.12" stroke="#000" stroke-width="2" stroke-linecap="butt"/>
<text transform="translate(396.11,778.47) scale(1.030,1)" font-size="14.00" font-weight="bold" fill="#000" stroke="#000" stroke-width="0.25">-0.04</text>
<line x1="435.80" y1="791.89" x2="438.70" y2="791.89" stroke="#000" stroke-width="2" stroke-linecap="butt"/>
<text transform="translate(396.55,797.24) scale(1.030,1)" font-size="14.00" font-weight="bold" fill="#000" stroke="#000" stroke-width="0.25">-0.06</text>
<line x1="435.80" y1="810.66" x2="438.70" y2="810.66" stroke="#000" stroke-width="2" stroke-linecap="butt"/>
<text transform="translate(396.48,816.01) scale(1.030,1)" font-size="14.00" font-weight="bold" fill="#000" stroke="#000" stroke-width="0.25">-0.08</text>
<line x1="435.80" y1="829.43" x2="438.70" y2="829.43" stroke="#000" stroke-width="2" stroke-linecap="butt"/>
<text transform="translate(404.45,834.78) scale(1.030,1)" font-size="14.00" font-weight="bold" fill="#000" stroke="#000" stroke-width="0.25">-0.1</text>
<line x1="435.80" y1="848.20" x2="438.70" y2="848.20" stroke="#000" stroke-width="2" stroke-linecap="butt"/>
<text transform="translate(396.61,853.55) scale(1.030,1)" font-size="14.00" font-weight="bold" fill="#000" stroke="#000" stroke-width="0.25">-0.12</text>
<text transform="translate(363.70,889.92) rotate(-90)" font-size="22.79" font-weight="bold" fill="#000">I-DLPFC oxy-Hb</text>
<text transform="translate(369.80,715.55) rotate(-90)" font-size="15.11" font-weight="bold" fill="#000">interference</text>
<text transform="translate(383.00,885.54) rotate(-90)" font-size="16.00" font-weight="normal" fill="#000" textLength="81.58" lengthAdjust="spacing" stroke="#000" stroke-width="0.3">[mM <tspan font-weight="bold" stroke-width="0.6">·</tspan> mm]</text>
<text x="475.78" y="878.50" font-size="22.80" font-weight="bold" fill="#000">Interference</text>
<line x1="499.80" y1="683.90" x2="499.80" y2="713.50" stroke="#3a3a3a" stroke-width="1.5" stroke-linecap="butt"/>
<line x1="499.80" y1="746.20" x2="499.80" y2="774.40" stroke="#3a3a3a" stroke-width="1.5" stroke-linecap="butt"/>
<line x1="495.40" y1="683.90" x2="504.20" y2="683.90" stroke="#3a3a3a" stroke-width="1.5" stroke-linecap="butt"/>
<line x1="495.40" y1="774.40" x2="504.20" y2="774.40" stroke="#3a3a3a" stroke-width="1.5" stroke-linecap="butt"/>
<rect x="485.20" y="713.50" width="29.20" height="32.70" fill="#c0c0c0" stroke="#2a2a2a" stroke-width="1.5"/>
<line x1="485.20" y1="727.40" x2="514.40" y2="727.40" stroke="#2a2a2a" stroke-width="1.5" stroke-linecap="butt"/>
<line x1="532.00" y1="697.40" x2="532.00" y2="719.70" stroke="#3a3a3a" stroke-width="1.5" stroke-linecap="butt"/>
<line x1="532.00" y1="741.70" x2="532.00" y2="775.00" stroke="#3a3a3a" stroke-width="1.5" stroke-linecap="butt"/>
<line x1="527.60" y1="697.40" x2="536.40" y2="697.40" stroke="#3a3a3a" stroke-width="1.5" stroke-linecap="butt"/>
<line x1="527.60" y1="775.00" x2="536.40" y2="775.00" stroke="#3a3a3a" stroke-width="1.5" stroke-linecap="butt"/>
<rect x="517.50" y="719.70" width="29.00" height="22.00" fill="url(#chkL)" stroke="#2a2a2a" stroke-width="1.5"/>
<line x1="517.50" y1="734.00" x2="546.50" y2="734.00" stroke="#2a2a2a" stroke-width="1.5" stroke-linecap="butt"/>
<circle cx="532.00" cy="777.50" r="2.05" fill="#fff" stroke="#222" stroke-width="1.1"/>
<line x1="563.90" y1="690.70" x2="563.90" y2="711.10" stroke="#3a3a3a" stroke-width="1.5" stroke-linecap="butt"/>
<line x1="563.90" y1="736.20" x2="563.90" y2="773.40" stroke="#3a3a3a" stroke-width="1.5" stroke-linecap="butt"/>
<line x1="559.50" y1="690.70" x2="568.30" y2="690.70" stroke="#3a3a3a" stroke-width="1.5" stroke-linecap="butt"/>
<line x1="559.50" y1="773.40" x2="568.30" y2="773.40" stroke="#3a3a3a" stroke-width="1.5" stroke-linecap="butt"/>
<rect x="549.60" y="711.10" width="28.60" height="25.10" fill="#5a5a5a" stroke="#2a2a2a" stroke-width="1.5"/>
<line x1="549.60" y1="723.40" x2="578.20" y2="723.40" stroke="#2a2a2a" stroke-width="1.5" stroke-linecap="butt"/>
<circle cx="563.90" cy="670.60" r="2.05" fill="#555" stroke="#222" stroke-width="1.1"/>
<circle cx="563.90" cy="835.40" r="2.05" fill="#555" stroke="#222" stroke-width="1.1"/>
<line x1="595.90" y1="699.20" x2="595.90" y2="720.20" stroke="#3a3a3a" stroke-width="1.5" stroke-linecap="butt"/>
<line x1="595.90" y1="746.80" x2="595.90" y2="766.30" stroke="#3a3a3a" stroke-width="1.5" stroke-linecap="butt"/>
<line x1="591.50" y1="699.20" x2="600.30" y2="699.20" stroke="#3a3a3a" stroke-width="1.5" stroke-linecap="butt"/>
<line x1="591.50" y1="766.30" x2="600.30" y2="766.30" stroke="#3a3a3a" stroke-width="1.5" stroke-linecap="butt"/>
<rect x="581.30" y="720.20" width="29.20" height="26.60" fill="url(#chkD)" stroke="#2a2a2a" stroke-width="1.5"/>
<line x1="581.30" y1="727.20" x2="610.50" y2="727.20" stroke="#2a2a2a" stroke-width="1.5" stroke-linecap="butt"/>
<circle cx="595.90" cy="673.30" r="2.05" fill="#444" stroke="#222" stroke-width="1.1"/>
<rect x="199.95" y="923.85" width="11.70" height="12.00" fill="#c0c0c0" stroke="#333" stroke-width="1.5"/>
<rect x="200.15" y="951.95" width="11.60" height="12.20" fill="#595959" stroke="#222" stroke-width="1.5"/>
<text x="226.51" y="938.80" font-size="20.87" font-weight="normal" fill="#000" stroke="#000" stroke-width="0.3">WM condition</text>
<text x="226.15" y="968.10" font-size="20.90" font-weight="normal" fill="#000" stroke="#000" stroke-width="0.3">GR condition</text>
<rect x="388.80" y="926.50" width="10.60" height="12.10" fill="#fff" stroke="#000" stroke-width="1.3"/>
<rect x="388.80" y="954.70" width="10.60" height="13.20" fill="url(#chkK)" stroke="#000" stroke-width="1.3"/>
<text x="413.49" y="939.90" font-size="20.84" font-weight="normal" fill="#000" stroke="#000" stroke-width="0.3">Pre</text>
<text x="413.50" y="968.90" font-size="20.72" font-weight="normal" fill="#000" stroke="#000" stroke-width="0.3">Post</text>
<text x="509.17" y="945.10" font-size="20.33" font-weight="normal" fill="#000" stroke="#000" stroke-width="0.3">***P&lt;0.001</text></svg></body></html>
